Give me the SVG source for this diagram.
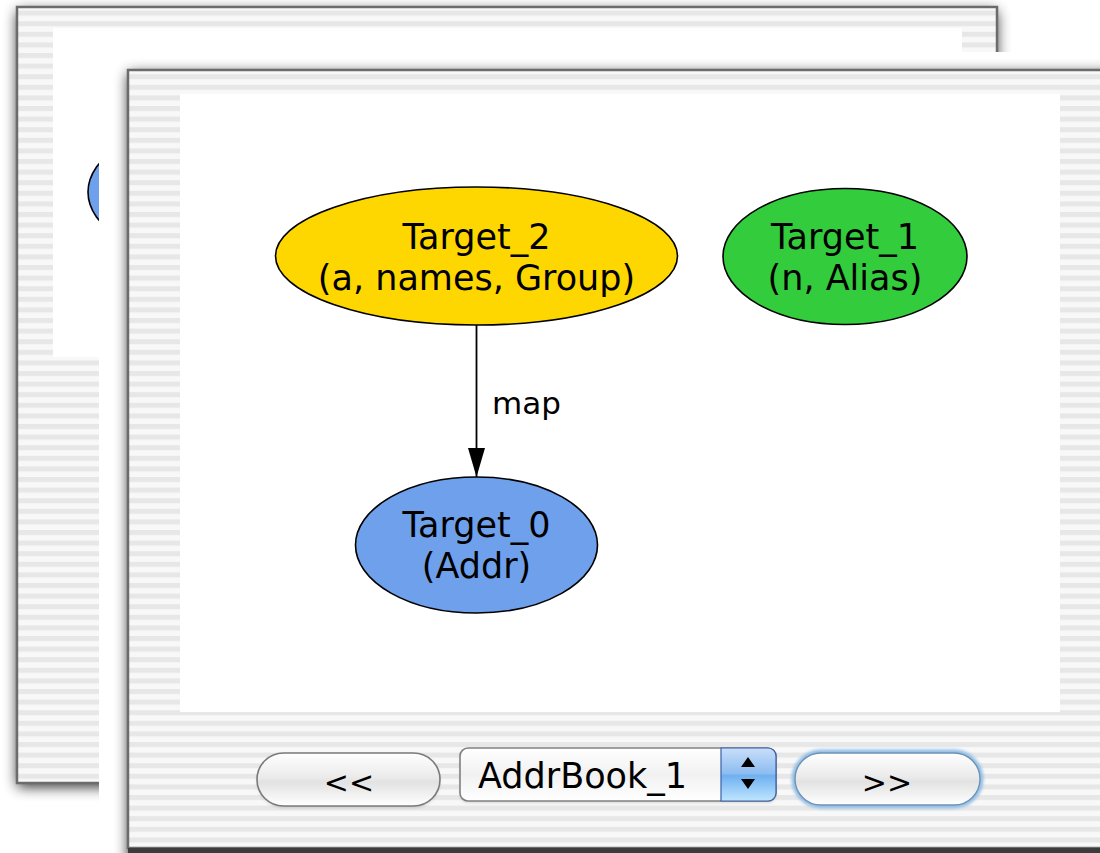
<svg xmlns="http://www.w3.org/2000/svg" width="1100" height="853" viewBox="0 0 1100 853">
  <defs>
    <!-- Aqua pinstripe window background -->
    <pattern id="pinstripe" x="0" y="0" width="20" height="10.6" patternUnits="userSpaceOnUse">
      <rect width="20" height="10.6" fill="#f8f8f8"/>
      <rect y="0" width="20" height="5" fill="#e7e7e7"/>
    </pattern>
    <filter id="shadowBlur" x="-10%" y="-10%" width="120%" height="120%">
      <feGaussianBlur stdDeviation="7"/>
    </filter>
    <filter id="glowBlur" x="-10%" y="-30%" width="120%" height="160%">
      <feGaussianBlur stdDeviation="1.6"/>
    </filter>
    <clipPath id="frontArea">
      <rect x="99" y="52" width="1001" height="801"/>
    </clipPath>
    <linearGradient id="pillFill" x1="0" y1="0" x2="0" y2="1">
      <stop offset="0" stop-color="#ffffff"/>
      <stop offset="0.45" stop-color="#ebebeb"/>
      <stop offset="0.55" stop-color="#e2e2e2"/>
      <stop offset="1" stop-color="#ffffff"/>
    </linearGradient>
    <linearGradient id="popupFill" x1="0" y1="0" x2="0" y2="1">
      <stop offset="0" stop-color="#ffffff"/>
      <stop offset="0.5" stop-color="#f1f1f1"/>
      <stop offset="1" stop-color="#ffffff"/>
    </linearGradient>
    <linearGradient id="popupArrowFill" x1="0" y1="0" x2="0" y2="1">
      <stop offset="0" stop-color="#c9defa"/>
      <stop offset="0.48" stop-color="#8dbdf0"/>
      <stop offset="0.52" stop-color="#6fb0f0"/>
      <stop offset="1" stop-color="#bfe6ff"/>
    </linearGradient>
    <marker id="arrowHead" markerWidth="29" markerHeight="17" refX="29" refY="8.5" orient="auto" markerUnits="userSpaceOnUse" viewBox="0 0 29 17">
      <path d="M0,0 L29,8.5 L0,17 Z" fill="#000"/>
    </marker>
    <style>
      .win { fill: url(#pinstripe); stroke: #6c6c6c; stroke-width: 2.5; }
      .content { fill: #ffffff; }
      .node { stroke: #000; stroke-width: 1.6; }
      .label { font-family: "DejaVu Sans", "Liberation Sans", sans-serif; font-size: 35px; fill: #000; text-anchor: middle; }
      .edge { stroke: #000; stroke-width: 1.8; fill: none; }
      .edgeLabel { font-family: "DejaVu Sans", "Liberation Sans", sans-serif; font-size: 31px; fill: #000; }
      .btnText { font-family: "DejaVu Sans", "Liberation Sans", sans-serif; font-size: 30px; fill: #000; text-anchor: middle; }
      .pill { fill: url(#pillFill); stroke: #7a7a7a; stroke-width: 1.6; }
    </style>
  </defs>

  <rect width="1100" height="853" fill="#ffffff"/>

  <!-- window behind -->
  <g id="backWindow">
    <rect x="17" y="11" width="980" height="776" fill="#000" opacity="0.8" filter="url(#shadowBlur)"/>
    <rect class="win" x="17" y="7" width="980" height="776"/>
    <rect class="content" x="53" y="28" width="909" height="329"/>
    <ellipse class="node" cx="209" cy="192" rx="121" ry="68" fill="#6fa0ec"/>
  </g>

  <!-- area of the front window, with its shadow -->
  <rect x="99" y="52" width="1001" height="801" fill="#ffffff"/>
  <g clip-path="url(#frontArea)">
    <rect x="128" y="73" width="1000" height="800" fill="#000" opacity="0.8" filter="url(#shadowBlur)"/>
  </g>

  <!-- front window -->
  <g id="frontWindow">
    <rect class="win" x="128" y="70" width="1000" height="778"/>
    <rect x="128" y="848" width="972" height="5" fill="#3c3c3c"/>
    <rect class="content" x="180" y="94" width="880" height="618"/>
  </g>

  <!-- connectors -->
  <g id="connectors">
    <g id="edge-target2-target0">
      <line class="edge" x1="476.5" y1="325" x2="476.5" y2="477" marker-end="url(#arrowHead)"/>
      <text class="edgeLabel" x="492" y="414">map</text>
    </g>
  </g>

  <!-- nodes -->
  <g id="target2">
    <ellipse class="node" cx="476.5" cy="256" rx="201" ry="69" fill="#ffd700"/>
    <text class="label" x="476.5" y="249">Target_2</text>
    <text class="label" x="476.5" y="290">(a, names, Group)</text>
  </g>
  <g id="target1">
    <ellipse class="node" cx="845" cy="256.5" rx="122" ry="68" fill="#33cc3c"/>
    <text class="label" x="845" y="249">Target_1</text>
    <text class="label" x="845" y="290">(n, Alias)</text>
  </g>
  <g id="target0">
    <ellipse class="node" cx="476.5" cy="545" rx="121" ry="68" fill="#6fa0ec"/>
    <text class="label" x="476.5" y="537">Target_0</text>
    <text class="label" x="476.5" y="578">(Addr)</text>
  </g>

  <!-- controls -->
  <g id="prevButton">
    <rect x="257" y="755" width="183" height="53" rx="26.5" fill="#000" opacity="0.12" filter="url(#glowBlur)"/>
    <rect class="pill" x="257" y="753" width="183" height="53" rx="26.5"/>
    <text class="btnText" x="349" y="793">&lt;&lt;</text>
  </g>

  <g id="graphSelector">
    <rect x="460" y="750" width="316" height="53" rx="8" fill="#000" opacity="0.12" filter="url(#glowBlur)"/>
    <rect x="460" y="748" width="316" height="53" rx="8" fill="url(#popupFill)" stroke="#808080" stroke-width="1.6"/>
    <path d="M721,748 H768 A8,8 0 0 1 776,756 V793 A8,8 0 0 1 768,801 H721 Z" fill="url(#popupArrowFill)" stroke="#3c5fa8" stroke-width="1.2"/>
    <path d="M741,767 L755,767 L748,757 Z M741,779 L755,779 L748,789 Z" fill="#000"/>
    <text x="478" y="788" font-family="'DejaVu Sans', 'Liberation Sans', sans-serif" font-size="35" fill="#000">AddrBook_1</text>
  </g>

  <g id="nextButton">
    <rect x="795" y="753" width="185" height="52" rx="26" fill="none" stroke="#93bfe6" stroke-width="7" filter="url(#glowBlur)"/>
    <rect x="795" y="753" width="185" height="52" rx="26" fill="url(#pillFill)" stroke="#6f93b6" stroke-width="1.4"/>
    <text class="btnText" x="887" y="793">&gt;&gt;</text>
  </g>
</svg>
